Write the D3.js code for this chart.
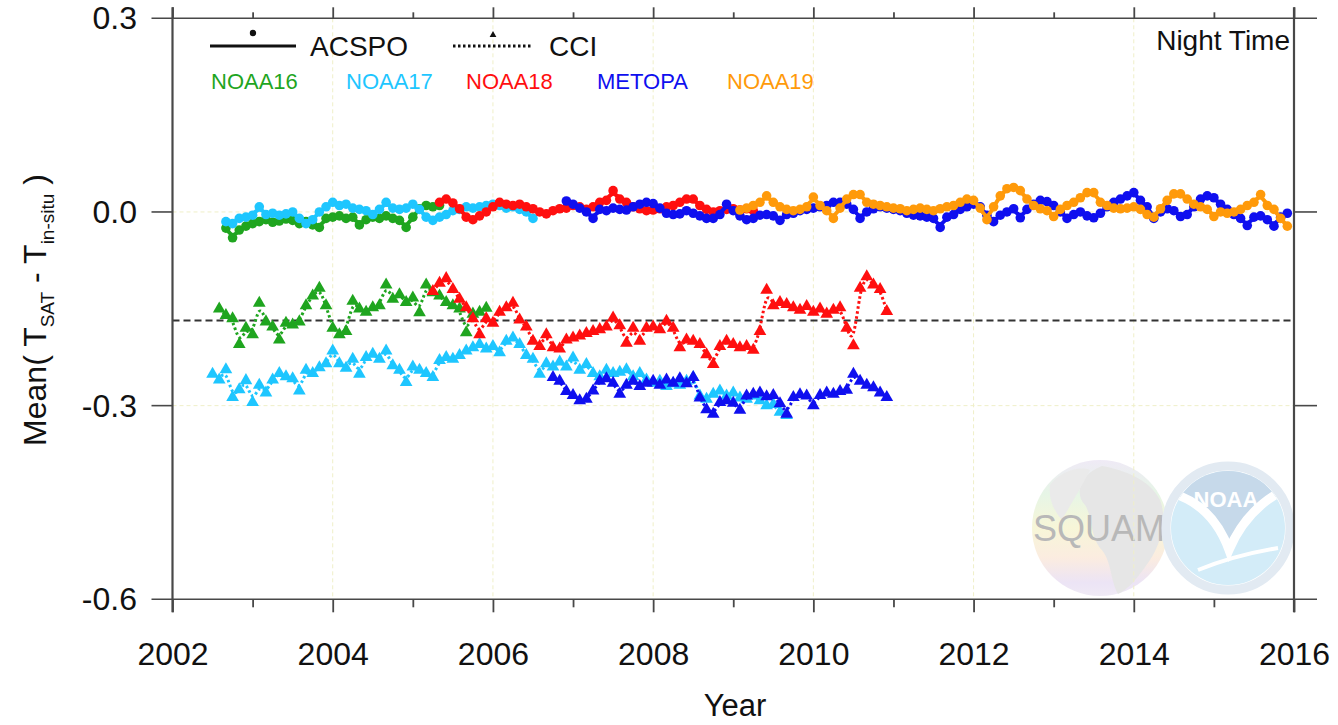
<!DOCTYPE html>
<html>
<head>
<meta charset="utf-8">
<script src="https://cdnjs.cloudflare.com/ajax/libs/d3/7.8.5/d3.min.js"></script>
<style>
  body { margin: 0; background: #fff; }
  svg { display: block; font-family: "Liberation Sans", Arial, Helvetica, sans-serif; }
</style>
</head>
<body>
<div id="chart"></div>
<script>
// monthly means, [year, month] of first value
var acspoN16Start = [2002, 9];
var acspoN16 = [-0.025, -0.04, -0.028, -0.022, -0.018, -0.015, -0.012, -0.016, -0.014, -0.011, -0.013, -0.018,
    -0.015, -0.02, -0.024, -0.01, -0.008, -0.006, -0.01, -0.008, -0.02, -0.012, -0.008, -0.01, -0.006, -0.01,
    -0.013, -0.024, -0.008, 0.005, 0.01, 0.008, 0.01];
var acspoN17Start = [2002, 9];
var acspoN17 = [-0.015, -0.018, -0.01, -0.008, -0.005, 0.008, -0.004, -0.002, -0.005, -0.003, 0.0, -0.01,
    -0.018, -0.012, 0.0, 0.008, 0.015, 0.01, 0.012, 0.006, 0.004, 0.002, -0.004, 0.004, 0.015, 0.006, 0.004,
    0.006, 0.012, 0.004, -0.008, -0.013, -0.008, -0.004, 0.002, 0.004, 0.008, 0.006, 0.008, 0.01, 0.012, 0.01,
    0.006, 0.008, 0.004, 0.0, -0.01];
var acspoN18Start = [2005, 5];
var acspoN18 = [0.015, 0.02, 0.014, 0.005, -0.008, -0.012, -0.006, 0.0, 0.008, 0.015, 0.012, 0.01, 0.012,
    0.008, 0.005, 0.0, -0.003, 0.002, 0.005, 0.006, 0.01, 0.008, 0.004, 0.008, 0.015, 0.018, 0.033, 0.02, 0.015,
    0.008, 0.005, 0.002, 0.003, 0.005, 0.008, 0.01, 0.015, 0.02, 0.02, 0.01, 0.004, 0.0, 0.002, 0.004, 0.005,
    0.003, 0.005, 0.002];
var acspoMetopaStart = [2006, 12];
var acspoMetopa = [0.017, 0.012, 0.006, 0.0, -0.01, 0.004, 0.002, 0.006, 0.004, 0.003, 0.008, 0.012, 0.015,
    0.013, 0.006, -0.002, -0.004, -0.003, 0.002, -0.002, -0.006, -0.01, -0.01, -0.004, 0.012, 0.002, -0.006,
    -0.012, -0.01, -0.005, -0.004, -0.006, -0.013, -0.004, -0.002, 0.002, 0.004, 0.006, 0.008, 0.01, 0.015,
    0.015, 0.012, 0.004, -0.01, 0.0, 0.005, 0.008, 0.006, 0.004, 0.002, -0.002, -0.005, -0.006, -0.008, -0.01,
    -0.024, -0.008, -0.004, 0.004, 0.008, 0.012, 0.008, -0.005, -0.015, -0.005, 0.0, 0.005, -0.009, 0.004,
    0.012, 0.018, 0.016, 0.01, 0.0, -0.01, -0.004, 0.0, -0.006, -0.009, -0.002, 0.008, 0.015, 0.02, 0.025, 0.03,
    0.018, 0.008, -0.01, 0.0, 0.005, 0.002, -0.007, -0.004, 0.008, 0.02, 0.025, 0.022, 0.012, 0.004, -0.004,
    -0.01, -0.021, -0.008, -0.006, -0.012, -0.022, -0.008, -0.002];
var acspoN19Start = [2009, 2];
var acspoN19 = [0.003, 0.006, 0.01, 0.015, 0.025, 0.015, 0.008, 0.004, 0.002, 0.004, 0.008, 0.023, 0.01,
    0.002, -0.01, 0.006, 0.02, 0.027, 0.027, 0.015, 0.012, 0.01, 0.008, 0.006, 0.005, 0.002, 0.004, 0.006,
    0.004, 0.002, 0.005, 0.008, 0.01, 0.015, 0.02, 0.018, 0.006, -0.012, 0.008, 0.025, 0.036, 0.038, 0.033,
    0.02, 0.01, 0.005, 0.002, -0.007, 0.004, 0.01, 0.015, 0.022, 0.03, 0.03, 0.015, 0.01, 0.006, 0.005, 0.006,
    0.008, 0.004, -0.004, -0.008, 0.005, 0.018, 0.028, 0.028, 0.02, 0.012, 0.008, 0.004, -0.007, 0.0, -0.002,
    0.0, 0.004, 0.01, 0.015, 0.027, 0.01, 0.004, -0.01, -0.022];

var cciN16Start = [2002, 8];
var cciN16 = [-0.15, -0.16, -0.165, -0.205, -0.18, -0.19, -0.141, -0.17, -0.178, -0.198, -0.172, -0.175, -0.17,
    -0.145, -0.13, -0.118, -0.145, -0.18, -0.19, -0.185, -0.138, -0.15, -0.155, -0.148, -0.145, -0.113, -0.135,
    -0.128, -0.14, -0.133, -0.156, -0.113, -0.125, -0.13, -0.14, -0.145, -0.15, -0.187, -0.158, -0.155, -0.149];
var cciN17Start = [2002, 7];
var cciN17 = [-0.251, -0.26, -0.244, -0.287, -0.275, -0.261, -0.295, -0.268, -0.28, -0.26, -0.25, -0.255,
    -0.258, -0.277, -0.245, -0.25, -0.241, -0.235, -0.215, -0.235, -0.242, -0.228, -0.251, -0.225, -0.22, -0.228,
    -0.215, -0.238, -0.245, -0.264, -0.24, -0.245, -0.25, -0.256, -0.23, -0.225, -0.228, -0.222, -0.215, -0.21,
    -0.205, -0.212, -0.208, -0.218, -0.2, -0.195, -0.205, -0.222, -0.228, -0.251, -0.235, -0.24, -0.232, -0.24,
    -0.226, -0.245, -0.236, -0.25, -0.255, -0.245, -0.25, -0.248, -0.244, -0.255, -0.25, -0.26, -0.265, -0.262,
    -0.27, -0.266, -0.268, -0.262, -0.256, -0.285, -0.29, -0.282, -0.277, -0.285, -0.28, -0.288, -0.29, -0.285,
    -0.292, -0.3, -0.298, -0.31, -0.315];
var cciN18Start = [2005, 4];
var cciN18 = [-0.123, -0.11, -0.103, -0.12, -0.135, -0.148, -0.165, -0.19, -0.165, -0.172, -0.155, -0.148,
    -0.141, -0.167, -0.178, -0.2, -0.208, -0.19, -0.21, -0.212, -0.198, -0.195, -0.192, -0.188, -0.185, -0.182,
    -0.178, -0.164, -0.176, -0.203, -0.18, -0.2, -0.18, -0.178, -0.182, -0.169, -0.18, -0.21, -0.198, -0.2,
    -0.205, -0.221, -0.236, -0.208, -0.2, -0.205, -0.21, -0.208, -0.214, -0.185, -0.121, -0.145, -0.14, -0.143,
    -0.148, -0.152, -0.146, -0.155, -0.15, -0.158, -0.152, -0.148, -0.18, -0.207, -0.118, -0.1, -0.113, -0.12,
    -0.154];
var cciMetopaStart = [2006, 10];
var cciMetopa = [-0.256, -0.262, -0.278, -0.284, -0.292, -0.29, -0.277, -0.262, -0.258, -0.265, -0.282, -0.268,
    -0.262, -0.27, -0.265, -0.262, -0.268, -0.26, -0.265, -0.258, -0.266, -0.256, -0.288, -0.306, -0.313, -0.295,
    -0.292, -0.296, -0.307, -0.285, -0.282, -0.28, -0.286, -0.284, -0.297, -0.313, -0.287, -0.283, -0.285, -0.3,
    -0.284, -0.28, -0.282, -0.278, -0.276, -0.251, -0.262, -0.268, -0.272, -0.28, -0.287];

var satNames = ["NOAA16", "NOAA17", "NOAA18", "METOPA", "NOAA19"];
var satColors = ["#1fa51f", "#1ec6ff", "#ff0f0f", "#0f0fef", "#ff9a0a"];
var refLine = -0.168;
var yTicks = [0.3, 0.0, -0.3, -0.6];
var yTickLabels = ["0.3", "0.0", "-0.3", "-0.6"];
var years = d3.range(2002, 2017);

var acspoSeries = [
    {sat: 0, start: acspoN16Start, values: acspoN16},
    {sat: 1, start: acspoN17Start, values: acspoN17},
    {sat: 2, start: acspoN18Start, values: acspoN18},
    {sat: 3, start: acspoMetopaStart, values: acspoMetopa},
    {sat: 4, start: acspoN19Start, values: acspoN19}
];
var cciSeries = [
    {sat: 0, start: cciN16Start, values: cciN16},
    {sat: 1, start: cciN17Start, values: cciN17},
    {sat: 2, start: cciN18Start, values: cciN18},
    {sat: 3, start: cciMetopaStart, values: cciMetopa}
];

function toPoints(s) {
    return s.values.map(function (v, i) {
        return {t: s.start[0] + (s.start[1] - 1 + i) / 12, v: v};
    });
}

var width = 1338, height = 725;
var svg = d3.select("#chart").append("svg")
    .attr("width", width)
    .attr("height", height);

var x = d3.scaleLinear().domain([2002, 2016]).range([172.5, 1294]);
var y = d3.scaleLinear().domain([-0.6, 0.3]).range([599.3, 18.3]);

var axisColor = "#484848";

// logos (faded) in the lower right
var logos = svg.append("g").attr("class", "logos");
var defs = svg.append("defs");
var globeGrad = defs.append("linearGradient")
    .attr("id", "globeGrad")
    .attr("x1", 0).attr("y1", 0).attr("x2", 0).attr("y2", 1);
[["0", "#efeaf6"], ["0.25", "#e6f5e6"], ["0.5", "#f7f6d8"], ["0.72", "#fbece0"], ["0.9", "#ece4f5"], ["1", "#efeaf5"]]
    .forEach(function (s) {
        globeGrad.append("stop").attr("offset", s[0]).attr("stop-color", s[1]);
    });
defs.append("clipPath").attr("id", "noaaClip")
    .append("circle").attr("cx", 1228).attr("cy", 528).attr("r", 57);

logos.append("circle")
    .attr("cx", 1100).attr("cy", 528).attr("r", 68)
    .attr("fill", "url(#globeGrad)");
logos.append("path")
    .attr("d", "M1102,466 C1125,470 1150,480 1160,500 C1168,520 1160,545 1150,560 C1140,575 1128,590 1118,594 " +
        "C1110,580 1112,560 1100,548 C1090,535 1092,515 1085,505 C1075,495 1078,475 1102,466 Z")
    .attr("fill", "#e6e6e6");
logos.append("path")
    .attr("d", "M1050,485 C1062,470 1080,466 1090,470 C1080,490 1070,505 1062,520 C1055,512 1048,500 1050,485 Z")
    .attr("fill", "#eaeaea");
logos.append("text")
    .attr("x", 1099).attr("y", 541)
    .attr("text-anchor", "middle")
    .attr("font-size", 36)
    .attr("fill", "#b8b8b8")
    .text("SQUAM");

logos.append("circle")
    .attr("cx", 1228).attr("cy", 528).attr("r", 62)
    .attr("fill", "none")
    .attr("stroke", "#e2eaf2")
    .attr("stroke-width", 9);
var noaa = logos.append("g").attr("clip-path", "url(#noaaClip)");
noaa.append("rect").attr("x", 1160).attr("y", 460).attr("width", 140).attr("height", 140).attr("fill", "#d3ecf8");
noaa.append("path")
    .attr("d", "M1160,460 L1300,460 L1300,488 Q1250,500 1230,545 Q1205,500 1160,490 Z")
    .attr("fill", "#c6d9ea");
noaa.append("path")
    .attr("d", "M1168,492 Q1212,503 1229,550 Q1248,505 1292,486")
    .attr("fill", "none").attr("stroke", "#fff").attr("stroke-width", 9);
noaa.append("path")
    .attr("d", "M1198,570 Q1235,555 1278,548")
    .attr("fill", "none").attr("stroke", "#fff").attr("stroke-width", 4);
noaa.append("text")
    .attr("x", 1226).attr("y", 507)
    .attr("text-anchor", "middle")
    .attr("font-size", 22)
    .attr("font-weight", "bold")
    .attr("fill", "#fff")
    .text("NOAA");

// light dotted grid
var grid = svg.append("g").attr("class", "grid");
grid.selectAll(".vgrid")
    .data(years.filter(function (d) { return d % 2 === 0 && d > 2002 && d < 2016; }))
    .enter().append("line")
    .attr("x1", function (d) { return x(d); })
    .attr("x2", function (d) { return x(d); })
    .attr("y1", y(0.3))
    .attr("y2", y(-0.6))
    .style("stroke", "#efefc8")
    .style("stroke-width", 1)
    .style("stroke-dasharray", "4,3");
grid.selectAll(".hgrid")
    .data([0.0, -0.3])
    .enter().append("line")
    .attr("x1", x(2002))
    .attr("x2", x(2016))
    .attr("y1", function (d) { return y(d); })
    .attr("y2", function (d) { return y(d); })
    .style("stroke", "#efefc8")
    .style("stroke-width", 1)
    .style("stroke-dasharray", "4,3");

// reference dashed line
svg.append("line")
    .attr("x1", x(2002)).attr("x2", x(2016))
    .attr("y1", y(refLine)).attr("y2", y(refLine))
    .style("stroke", "#333")
    .style("stroke-width", 2)
    .style("stroke-dasharray", "7,4");

// frame
var frame = svg.append("g").attr("class", "frame");
[0.3, -0.6].forEach(function (v) {
    frame.append("line")
        .attr("x1", x(2002) - 21).attr("x2", x(2016) + 23)
        .attr("y1", y(v)).attr("y2", y(v))
        .style("stroke", axisColor).style("stroke-width", 1.6);
});
[2002, 2016].forEach(function (t) {
    frame.append("line")
        .attr("x1", x(t)).attr("x2", x(t))
        .attr("y1", y(0.3) - 11).attr("y2", y(-0.6) + 13)
        .style("stroke", axisColor).style("stroke-width", 2.2);
});

// y ticks both sides
[0.0, -0.3].forEach(function (v) {
    frame.append("line")
        .attr("x1", x(2002) - 21).attr("x2", x(2002))
        .attr("y1", y(v)).attr("y2", y(v))
        .style("stroke", axisColor).style("stroke-width", 1.6);
    frame.append("line")
        .attr("x1", x(2016)).attr("x2", x(2016) + 23)
        .attr("y1", y(v)).attr("y2", y(v))
        .style("stroke", axisColor).style("stroke-width", 1.6);
});

// x ticks top and bottom
var xAxisBottom = d3.axisBottom(x)
    .tickValues(years)
    .tickSizeOuter(0)
    .tickSize(13)
    .tickPadding(30)
    .tickFormat(function (d) { return d % 2 === 0 ? d : ""; });
var gxb = svg.append("g")
    .attr("transform", "translate(0," + y(-0.6) + ")")
    .call(xAxisBottom);
gxb.select(".domain").remove();
gxb.selectAll(".tick line")
    .attr("y2", function (d) { return d % 2 === 0 ? 13 : 8; })
    .style("stroke", axisColor).style("stroke-width", 1.8);
gxb.selectAll(".tick text")
    .attr("font-size", 32)
    .attr("font-family", "Liberation Sans, Arial, sans-serif")
    .attr("fill", "#111");

var xAxisTop = d3.axisTop(x)
    .tickValues(years)
    .tickSizeOuter(0)
    .tickSize(11)
    .tickFormat("");
var gxt = svg.append("g")
    .attr("transform", "translate(0," + y(0.3) + ")")
    .call(xAxisTop);
gxt.select(".domain").remove();
gxt.selectAll(".tick line")
    .attr("y2", function (d) { return d % 2 === 0 ? -11 : -6; })
    .style("stroke", axisColor).style("stroke-width", 1.8);

// y tick labels
svg.selectAll(".ylab")
    .data(yTicks)
    .enter().append("text")
    .attr("class", "ylab")
    .attr("x", 137)
    .attr("y", function (d) { return y(d) + 11; })
    .attr("text-anchor", "end")
    .attr("font-size", 32)
    .attr("fill", "#111")
    .text(function (d, i) { return yTickLabels[i]; });

// axis titles
svg.append("text")
    .attr("x", 735).attr("y", 716)
    .attr("text-anchor", "middle")
    .attr("font-size", 31)
    .attr("fill", "#111")
    .text("Year");

var yTitle = svg.append("text")
    .attr("transform", "translate(46,310) rotate(-90)")
    .attr("text-anchor", "middle")
    .attr("font-size", 32)
    .attr("fill", "#111");
yTitle.append("tspan").text("Mean( T");
yTitle.append("tspan").attr("font-size", 19).attr("dy", 8).text("SAT");
yTitle.append("tspan").attr("dy", -8).text(" - T");
yTitle.append("tspan").attr("font-size", 19).attr("dy", 8).text("in-situ");
yTitle.append("tspan").attr("dy", -8).text(" )");

// data
var line = d3.line()
    .x(function (d) { return x(d.t); })
    .y(function (d) { return y(d.v); })
    .curve(d3.curveBasis);
var tri = d3.symbol().type(d3.symbolTriangle).size(70);

var cciG = svg.append("g").attr("class", "cci");
cciSeries.forEach(function (s) {
    var pts = toPoints(s);
    var col = satColors[s.sat];
    cciG.append("path")
        .attr("d", line(pts))
        .attr("fill", "none")
        .attr("stroke", col)
        .attr("stroke-width", 3)
        .attr("stroke-dasharray", "2.5,2.5");
    cciG.selectAll(null)
        .data(pts)
        .enter().append("path")
        .attr("d", tri)
        .attr("transform", function (d) { return "translate(" + x(d.t) + "," + y(d.v) + ")"; })
        .attr("fill", col);
});

var acspoG = svg.append("g").attr("class", "acspo");
acspoSeries.forEach(function (s) {
    var pts = toPoints(s);
    var col = satColors[s.sat];
    acspoG.append("path")
        .attr("d", line(pts))
        .attr("fill", "none")
        .attr("stroke", col)
        .attr("stroke-width", 4);
    acspoG.selectAll(null)
        .data(pts)
        .enter().append("circle")
        .attr("cx", function (d) { return x(d.t); })
        .attr("cy", function (d) { return y(d.v); })
        .attr("r", 4.8)
        .attr("fill", col);
});

// legend
var legend = svg.append("g").attr("class", "legend");
legend.append("line")
    .attr("x1", 210).attr("x2", 296).attr("y1", 46).attr("y2", 46)
    .style("stroke", "#111").style("stroke-width", 3);
legend.append("circle").attr("cx", 253).attr("cy", 33).attr("r", 3.2).attr("fill", "#111");
legend.append("text").attr("x", 310).attr("y", 56).attr("font-size", 28).attr("fill", "#111").text("ACSPO");
legend.append("line")
    .attr("x1", 453).attr("x2", 533).attr("y1", 46).attr("y2", 46)
    .style("stroke", "#111").style("stroke-width", 3).style("stroke-dasharray", "2.5,2.5");
legend.append("path")
    .attr("d", d3.symbol().type(d3.symbolTriangle).size(20))
    .attr("transform", "translate(493,35)")
    .attr("fill", "#111");
legend.append("text").attr("x", 549).attr("y", 56).attr("font-size", 28).attr("fill", "#111").text("CCI");

var satLabelX = [211, 346, 466, 597, 727];
legend.selectAll(".sat")
    .data(satNames)
    .enter().append("text")
    .attr("class", "sat")
    .attr("x", function (d, i) { return satLabelX[i]; })
    .attr("y", 89)
    .attr("font-size", 22)
    .attr("fill", function (d, i) { return satColors[i]; })
    .text(function (d) { return d; });

svg.append("text")
    .attr("x", 1290).attr("y", 50)
    .attr("text-anchor", "end")
    .attr("font-size", 28)
    .attr("fill", "#111")
    .text("Night Time");
</script>
</body>
</html>
